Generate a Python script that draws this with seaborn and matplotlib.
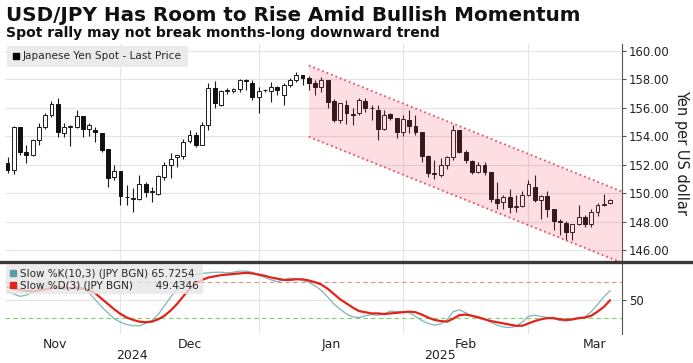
import numpy as np
import pandas as pd
import seaborn as sns

from matplotlib import pyplot as plt
from matplotlib.lines import Line2D

# daily USD/JPY candles, Nov 5 2024 - Mar 19 2025
dates = pd.bdate_range("2024-11-05", "2025-03-19")

opens = [152.1, 151.6, 154.6, 152.9, 152.67, 153.7, 154.6, 155.45, 156.25, 154.2,
         154.6, 154.6, 155.4, 154.5, 154.45, 154.2, 153.1, 151.1, 151.55, 149.75,
         149.6, 149.6, 150.6, 150.1, 149.9, 151.1, 151.95, 152.5, 152.6, 153.65,
         154.1, 153.4, 154.8, 157.4, 156.2, 157.15, 157.15, 157.3, 157.95, 157.7,
         156.75, 157.2, 157.15, 157.45, 156.9, 157.6, 157.9, 158.3, 158.1, 157.7,
         157.45, 157.9, 156.45, 155.1, 156.2, 155.55, 155.6, 156.45, 156.0, 155.8,
         154.5, 155.55, 155.25, 154.25, 155.1, 154.7, 154.3, 152.6, 151.4, 151.25,
         152.0, 152.5, 154.4, 152.85, 152.25, 151.5, 152.0, 151.5, 149.6, 149.4,
         149.75, 149.05, 149.1, 149.85, 150.45, 149.5, 149.8, 148.9, 148.05, 147.9,
         147.3, 147.8, 148.3, 147.8, 148.7, 149.15, 149.27]
highs = [152.5, 154.7, 154.65, 153.4, 153.8, 154.9, 155.6, 156.45, 156.7, 154.9,
         154.8, 155.85, 155.4, 154.95, 154.6, 154.2, 153.1, 151.95, 151.55, 150.55,
         150.35, 151.25, 150.8, 150.45, 151.3, 152.15, 152.8, 152.7, 153.8, 154.4,
         154.3, 155.0, 157.7, 157.85, 157.2, 157.35, 157.35, 158.0, 158.0, 157.9,
         157.45, 157.3, 157.8, 157.5, 157.7, 158.1, 158.5, 158.3, 158.2, 157.9,
         158.15, 157.9, 156.6, 156.35, 156.5, 156.0, 156.7, 156.7, 156.2, 156.2,
         155.8, 155.6, 155.3, 155.5, 155.85, 155.5, 154.3, 152.65, 152.35, 152.45,
         152.6, 154.75, 154.4, 153.0, 152.35, 152.2, 152.2, 151.5, 150.8, 149.85,
         150.25, 149.85, 150.15, 150.95, 151.25, 149.85, 150.15, 148.9, 148.2, 148.05,
         147.85, 149.15, 148.45, 148.9, 149.3, 149.9, 149.6]
lows = [151.4, 151.35, 152.7, 152.1, 152.6, 153.4, 154.5, 155.35, 153.9, 153.9,
        153.3, 154.55, 153.9, 154.0, 153.6, 152.9, 150.45, 150.9, 149.15, 149.15,
        148.7, 149.5, 149.75, 149.4, 149.85, 150.9, 151.05, 151.85, 152.4, 153.5,
        153.25, 153.35, 154.4, 155.95, 156.1, 156.95, 157.05, 157.1, 157.2, 156.5,
        155.6, 157.1, 156.4, 156.9, 156.2, 157.45, 157.8, 157.6, 157.2, 156.9,
        157.1, 155.95, 155.0, 154.95, 154.85, 154.8, 155.5, 155.7, 155.1, 153.7,
        154.4, 155.1, 153.85, 154.0, 154.2, 154.05, 152.2, 151.15, 151.0, 151.15,
        151.7, 152.35, 152.8, 152.1, 151.35, 151.4, 151.25, 149.4, 148.9, 148.9,
        148.6, 148.7, 149.05, 149.8, 149.4, 148.15, 148.35, 147.4, 147.05, 146.7,
        146.7, 147.75, 147.65, 147.65, 148.4, 149.1, 149.25]
closes = [151.6, 154.6, 152.9, 152.65, 153.7, 154.6, 155.5, 156.25, 154.25, 154.6,
          154.7, 155.4, 154.5, 154.8, 154.25, 153.05, 151.05, 151.55, 149.8, 149.7,
          149.65, 150.6, 150.1, 150.12, 151.2, 151.95, 152.4, 152.65, 153.6, 154.1,
          153.4, 154.8, 157.4, 156.3, 157.15, 157.2, 157.3, 157.9, 157.85, 156.75,
          157.15, 157.22, 157.45, 157.2, 157.6, 157.9, 158.3, 158.1, 157.7, 157.45,
          157.9, 156.4, 155.1, 156.3, 155.6, 155.5, 156.5, 156.0, 155.95, 154.5,
          155.5, 155.25, 154.25, 155.2, 154.7, 154.3, 152.6, 151.4, 151.35, 152.0,
          152.5, 154.4, 152.85, 152.3, 151.5, 152.0, 151.5, 149.6, 149.27, 149.75,
          149.05, 149.1, 149.85, 150.6, 149.5, 149.8, 148.9, 148.05, 148.0, 147.3,
          147.8, 148.3, 147.8, 148.7, 149.15, 149.2, 149.5]

# stochastic oscillator (lower panel)
slow_k = [64, 60, 56, 58, 63, 69, 74, 76, 72, 68, 70, 73, 70, 62, 50, 38, 28, 18, 12, 8,
          6, 6, 10, 15, 25, 40, 55, 68, 80, 88, 93, 95, 96, 97, 97, 96, 97, 99, 99, 97,
          92, 88, 84, 81, 84, 87, 86, 83, 80, 74, 66, 55, 43, 34, 26, 21, 20, 23, 25, 24,
          26, 31, 30, 30, 28, 22, 15, 10, 7, 9, 16, 30, 33, 28, 23, 22, 18, 12, 7, 4,
          3, 5, 12, 22, 24, 22, 20, 18, 15, 14, 16, 19, 21, 30, 42, 55, 65.7254]
slow_d = [72, 70, 67, 65, 65, 66, 68, 70, 71, 71, 70, 70, 69, 67, 61, 52, 43, 34, 26, 20,
          16, 13, 12, 13, 17, 23, 32, 43, 56, 69, 78, 84, 88, 90, 92, 93, 94, 95, 96, 95,
          93, 91, 88, 86, 84, 84, 85, 85, 83, 80, 76, 69, 60, 51, 44, 37, 31, 29, 27, 27,
          26, 27, 28, 29, 30, 29, 25, 20, 16, 14, 13, 18, 24, 25, 23, 20, 17, 14, 12, 10,
          8, 6, 6, 10, 14, 17, 19, 19, 17, 16, 17, 19, 20, 23, 30, 38, 49.4346]

# downward channel (position in trading days, yen)
channel_x = [48, 97.9]
channel_upper = [158.95, 150.1]
channel_lower = [153.95, 145.1]

price_ticks = [146, 148, 150, 152, 154, 156, 158, 160]

title = "USD/JPY Has Room to Rise Amid Bullish Momentum"
subtitle = "Spot rally may not break months-long downward trend"

sns.set_style("white")
plt.rcParams['font.family'] = ['DejaVu Sans']

n = len(dates)
pos = np.arange(n)
df = pd.DataFrame({"pos": pos, "open": opens, "high": highs, "low": lows, "close": closes,
                   "k": slow_k, "d": slow_d})

xlim = (-0.4, 97.9)

# month boundaries on the trading-day axis
full = pd.bdate_range("2024-10-01", "2025-03-31")
full_pos = np.arange(len(full)) - full.get_loc(dates[0])
month_end = pd.Series(full_pos, index=full).groupby(full.to_period("M")).max()
grid_pos = [p for p in month_end.values if xlim[0] < p < xlim[1]]
label_pos = ((month_end.shift(1) + month_end) / 2).dropna()
month_labels = [p.strftime("%b") for p in label_pos.index]

fig = plt.figure(figsize=(6.93, 3.63), dpi=100)
ax = fig.add_axes([5 / 693, 1 - 261 / 363, 617 / 693, 217 / 363])
ax2 = fig.add_axes([5 / 693, 1 - 334 / 363, 617 / 693, 70 / 363])

# candles
up = df["close"] >= df["open"]
ax.vlines(df["pos"], df["low"], df["high"], color="#1a1a1a", lw=0.8, zorder=2)
body = (df["close"] - df["open"]).abs().clip(lower=0.03)
bottom = df[["open", "close"]].min(axis=1)
ax.bar(df["pos"][up], body[up], bottom=bottom[up], width=0.62, color="white",
       edgecolor="#1a1a1a", linewidth=0.7, zorder=3)
ax.bar(df["pos"][~up], body[~up], bottom=bottom[~up], width=0.62, color="#111111",
       edgecolor="#111111", linewidth=0.7, zorder=3)

# channel
ax.fill_between(channel_x, channel_lower, channel_upper, color="#f03c5a", alpha=0.17,
                lw=0, zorder=4)
ax.plot(channel_x, channel_upper, color="#e8506a", ls=":", lw=1.3, zorder=5)
ax.plot(channel_x, channel_lower, color="#e8506a", ls=":", lw=1.3, zorder=5)

ax.set_xlim(*xlim)
ax.set_ylim(145.23, 160.46)
ax.set_xticks(grid_pos)
ax.set_xticklabels([])
ax.set_yticks(price_ticks)
ax.set_yticklabels(["{:.2f}".format(t) for t in price_ticks])
ax.yaxis.tick_right()
ax.yaxis.set_label_position("right")
ax.set_ylabel("Yen per US dollar", rotation=270, fontsize=10.5, labelpad=14, color="#222")
ax.tick_params(axis="x", length=0)
ax.tick_params(axis="y", length=3, width=0.8, color="#555", labelsize=8.4, pad=2,
               labelcolor="#222")
ax.grid(True, color="#e4e4e4", lw=0.8)
for s in ["left", "top", "bottom"]:
    ax.spines[s].set_visible(False)
ax.spines["right"].set_color("#555")
ax.spines["right"].set_linewidth(0.8)

leg = ax.legend(handles=[Line2D([], [], marker="s", color="black", ls="None", markersize=4.5)],
                labels=["Japanese Yen Spot - Last Price"], loc="upper left",
                bbox_to_anchor=(0, 1), borderaxespad=0.15, fontsize=7.6, frameon=True,
                fancybox=False, facecolor="#ebebeb", edgecolor="none", framealpha=1,
                handlelength=0.7, handletextpad=0.3, borderpad=0.55)

# stochastic panel
sns.lineplot(data=df, x="pos", y="k", ax=ax2, color="#7fb5b8", lw=0.9, zorder=3)
sns.lineplot(data=df, x="pos", y="d", ax=ax2, color="#e2231a", lw=1.6, zorder=4)
ax2.axhline(80, color="#f08a80", ls="--", lw=0.8, dashes=(4, 3), zorder=2)
ax2.axhline(20, color="#7ccf6a", ls="--", lw=0.8, dashes=(4, 3), zorder=2)
ax2.set_xlim(*xlim)
ax2.set_ylim(-8, 111)
ax2.set_xlabel("")
ax2.set_ylabel("")
ax2.set_yticks([50])
ax2.yaxis.tick_right()
ax2.tick_params(axis="y", length=3, width=0.8, color="#555", labelsize=8.4, pad=2,
                labelcolor="#222")
ax2.set_xticks(grid_pos)
ax2.set_xticklabels([])
ax2.set_xticks(label_pos.values, minor=True)
ax2.set_xticklabels(month_labels, minor=True)
ax2.tick_params(axis="x", which="both", length=0, labelsize=9, pad=3, labelcolor="#222")
ax2.grid(True, which="major", color="#e4e4e4", lw=0.8)
for s in ["left", "top", "bottom"]:
    ax2.spines[s].set_visible(False)
ax2.spines["right"].set_color("#555")
ax2.spines["right"].set_linewidth(0.8)

dec_end = month_end[pd.Period("2024-12", "M")]
for year, x in [("2024", (xlim[0] + dec_end) / 2), ("2025", (dec_end + xlim[1]) / 2)]:
    ax2.text(x, -0.31, year, transform=ax2.get_xaxis_transform(), ha="center", va="center",
             fontsize=9, color="#222")

leg2 = ax2.legend(handles=[Line2D([], [], marker="s", color="#5f9ea0", ls="None", markersize=4.5),
                           Line2D([], [], marker="s", color="#e2231a", ls="None", markersize=4.5)],
                  labels=["Slow %K(10,3) (JPY BGN) 65.7254", "Slow %D(3) (JPY BGN)       49.4346"],
                  loc="upper left", bbox_to_anchor=(0, 1), borderaxespad=0.1, fontsize=7.5,
                  frameon=True, fancybox=False, facecolor="#e6e6e6", edgecolor="none",
                  framealpha=0.8, handlelength=0.7, handletextpad=0.3, borderpad=0.35,
                  labelspacing=0.2)
leg2.set_zorder(6)

# separator between panels
fig.add_artist(Line2D([0, 1], [1 - 262 / 363, 1 - 262 / 363], transform=fig.transFigure,
                      color="#3a3a3a", lw=2.4))

fig.text(6 / 693, 1 - 21 / 363, title, fontsize=14.3, weight="bold", va="baseline",
         color="#111")
fig.text(6 / 693, 1 - 37 / 363, subtitle, fontsize=10.1, weight="bold", va="baseline",
         color="#111")

fig.savefig("out.png", dpi=100)
